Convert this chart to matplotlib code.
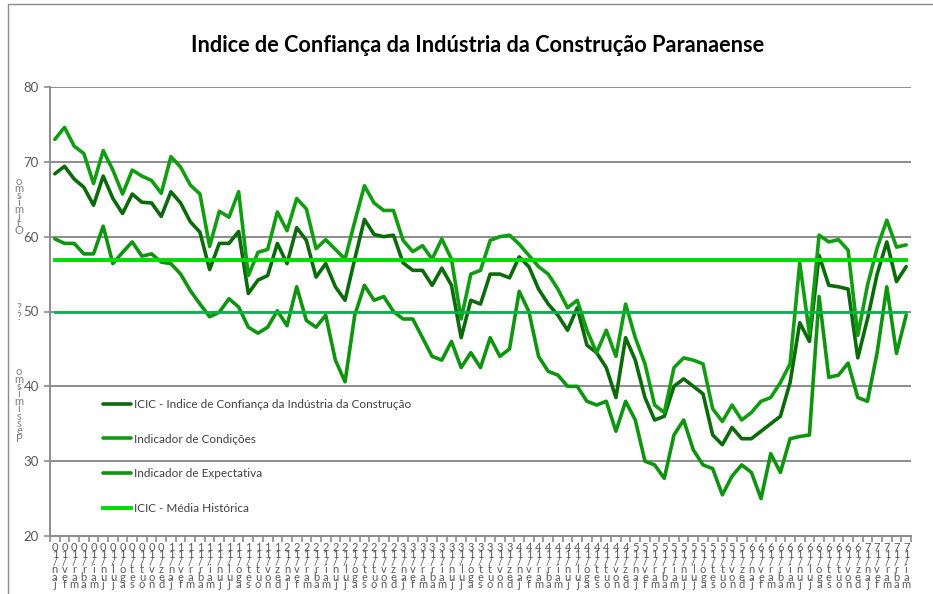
import numpy as np
import matplotlib.pyplot as plt
from matplotlib.patches import Rectangle

plt.rcParams['font.family'] = ['Lato', 'DejaVu Sans']

# --- dados (leitura aproximada do gráfico) ---
meses = ['jan', 'fev', 'mar', 'abr', 'mai', 'jun', 'jul', 'ago', 'set', 'out', 'nov', 'dez']
anos = ['10', '11', '12', '13', '14', '15', '16', '17']
rotulos = [m + '/' + a for a in anos for m in meses][:89]

icic = [68.4, 69.4, 67.7, 66.6, 64.2, 68.1, 65.1, 63.1, 65.7, 64.6,
        64.5, 62.7, 66.0, 64.5, 62.0, 60.6, 55.6, 59.1, 59.1, 60.7,
        52.4, 54.2, 54.8, 59.1, 56.4, 61.2, 59.5, 54.6, 56.4, 53.3,
        51.5, 57.0, 62.3, 60.3, 60.0, 60.2, 56.5, 55.5, 55.5, 53.5,
        55.8, 53.5, 46.5, 51.5, 51.0, 55.0, 55.0, 54.5, 57.3, 56.0,
        53.0, 51.0, 49.5, 47.5, 50.5, 45.5, 44.5, 42.5, 38.5, 46.5,
        43.5, 38.5, 35.5, 36.0, 40.0, 41.0, 40.0, 39.0, 33.5, 32.2,
        34.5, 33.0, 33.0, 34.0, 35.0, 36.0, 40.5, 48.5, 46.0, 57.5,
        53.5, 53.3, 53.0, 43.8, 49.0, 55.0, 59.3, 54.0, 56.0]

condicoes = [73.0, 74.6, 72.1, 71.1, 67.1, 71.5, 68.9, 65.7, 68.9, 68.1,
             67.5, 65.8, 70.7, 69.3, 66.9, 65.7, 58.7, 63.4, 62.6, 66.0,
             54.8, 57.9, 58.3, 63.3, 60.8, 65.1, 63.7, 58.4, 59.6, 58.3,
             57.0, 62.0, 66.8, 64.5, 63.5, 63.5, 59.5, 58.0, 58.8, 57.0,
             59.7, 57.0, 49.0, 55.0, 55.5, 59.5, 60.0, 60.2, 59.0, 57.5,
             56.0, 55.0, 53.0, 50.5, 51.5, 47.5, 44.5, 47.5, 44.0, 51.0,
             46.5, 43.0, 37.5, 36.5, 42.5, 43.8, 43.5, 43.0, 37.0, 35.3,
             37.5, 35.5, 36.5, 38.0, 38.5, 40.5, 43.0, 56.5, 47.0, 60.2,
             59.3, 59.6, 58.2, 46.8, 53.5, 58.5, 62.2, 58.6, 58.9]

expectativa = [59.7, 59.1, 59.1, 57.7, 57.7, 61.4, 56.4, 57.9, 59.3, 57.4,
               57.7, 56.6, 56.4, 55.0, 52.8, 51.0, 49.3, 49.9, 51.7, 50.6,
               47.9, 47.1, 47.9, 50.1, 48.1, 53.3, 48.8, 47.9, 49.5, 43.5,
               40.6, 49.5, 53.5, 51.5, 52.0, 50.0, 49.0, 49.0, 46.5, 44.0,
               43.5, 46.0, 42.5, 44.5, 42.5, 46.5, 44.0, 45.0, 52.7, 50.0,
               44.0, 42.0, 41.5, 40.0, 40.0, 38.0, 37.5, 38.0, 34.0, 38.0,
               35.5, 30.0, 29.5, 27.7, 33.5, 35.5, 31.5, 29.5, 29.0, 25.5,
               28.0, 29.5, 28.5, 25.0, 31.0, 28.5, 33.0, 33.3, 33.5, 52.0,
               41.2, 41.5, 43.1, 38.5, 38.0, 44.5, 53.3, 44.4, 49.5]

media_historica = 56.9
linha_50 = 50.0

x = np.arange(len(rotulos))

fig = plt.figure(figsize=(9.33, 5.94), dpi=100)
ax = fig.add_axes([50 / 933, 1 - 536 / 594, 861 / 933, 449 / 594])

# moldura do gráfico
fig.patches.append(Rectangle((8 / 933, -0.05), 1.1, 1 - 4 / 594 + 0.05,
                             transform=fig.transFigure, fill=False,
                             edgecolor='#8c8c8c', lw=1))

lw = 2.6
ax.plot(x, icic, color='#0b6b0b', lw=lw, solid_joinstyle='round', solid_capstyle='round',
        label='ICIC - Indice de Confiança da Indústria da Construção', zorder=3)
ax.plot(x, condicoes, color='#129c12', lw=lw, solid_joinstyle='round', solid_capstyle='round',
        label='Indicador de Condições', zorder=3)
ax.plot(x, expectativa, color='#0f940f', lw=lw, solid_joinstyle='round', solid_capstyle='round',
        label='Indicador de Expectativa', zorder=3)
ax.plot(x, [media_historica] * len(x), color='#00dc00', lw=2.8,
        label='ICIC - Média Histórica', zorder=4)
ax.plot(x, [linha_50] * len(x), color='#0db14b', lw=2.0, zorder=4)

ax.set_xlim(-0.5, len(x) - 0.5)
ax.set_ylim(20, 80)
ax.set_yticks(range(20, 81, 10))
ax.yaxis.grid(True, color='#8c8c8c', lw=1.4)
ax.set_axisbelow(True)
for s in ['top', 'right']:
    ax.spines[s].set_visible(False)
for s in ['left', 'bottom']:
    ax.spines[s].set_color('#8c8c8c')
    ax.spines[s].set_linewidth(1.4)
ax.tick_params(axis='y', colors='#8c8c8c', labelcolor='#595959', labelsize=9.5,
               length=4, width=1.2, pad=4)

# rótulos do eixo x empilhados (como no original)
ax.set_xticks(x)
ax.set_xticklabels(['\n'.join(reversed(r)) for r in rotulos], fontsize=8,
                   color='#595959', linespacing=0.62, va='top')
ax.tick_params(axis='x', length=0, pad=4)
ax.set_xticks(np.arange(len(x) + 1) - 0.5, minor=True)
ax.tick_params(axis='x', which='minor', length=4, width=1.2, color='#8c8c8c')

# rótulo do eixo y (texto empilhado)
fig.text(19 / 933, 1 - 206 / 594, '\n'.join(reversed('Otimismo')), ha='center', va='center',
         fontsize=8, color='#7f7f7f', linespacing=0.55)
fig.text(19 / 933, 1 - 312 / 594, '?\n?', ha='center', va='center',
         fontsize=8, color='#7f7f7f', linespacing=0.7)
fig.text(19 / 933, 1 - 405 / 594, '\n'.join(reversed('Pessimismo')), ha='center', va='center',
         fontsize=8, color='#7f7f7f', linespacing=0.6)

fig.text(478 / 933, 1 - 45 / 594, 'Indice de Confiança da Indústria da Construção Paranaense',
         ha='center', va='center', fontsize=15.7, fontweight='bold', color='#000000')

leg = ax.legend(loc='upper left', bbox_to_anchor=(103 / 933, 1 - 399 / 594),
                bbox_transform=fig.transFigure, frameon=False, fontsize=8.5,
                labelspacing=2.0, handlelength=2.4, handletextpad=0.2,
                borderpad=0, borderaxespad=0)
for t in leg.get_texts():
    t.set_color('#404040')

fig.savefig('out.png', dpi=100)
